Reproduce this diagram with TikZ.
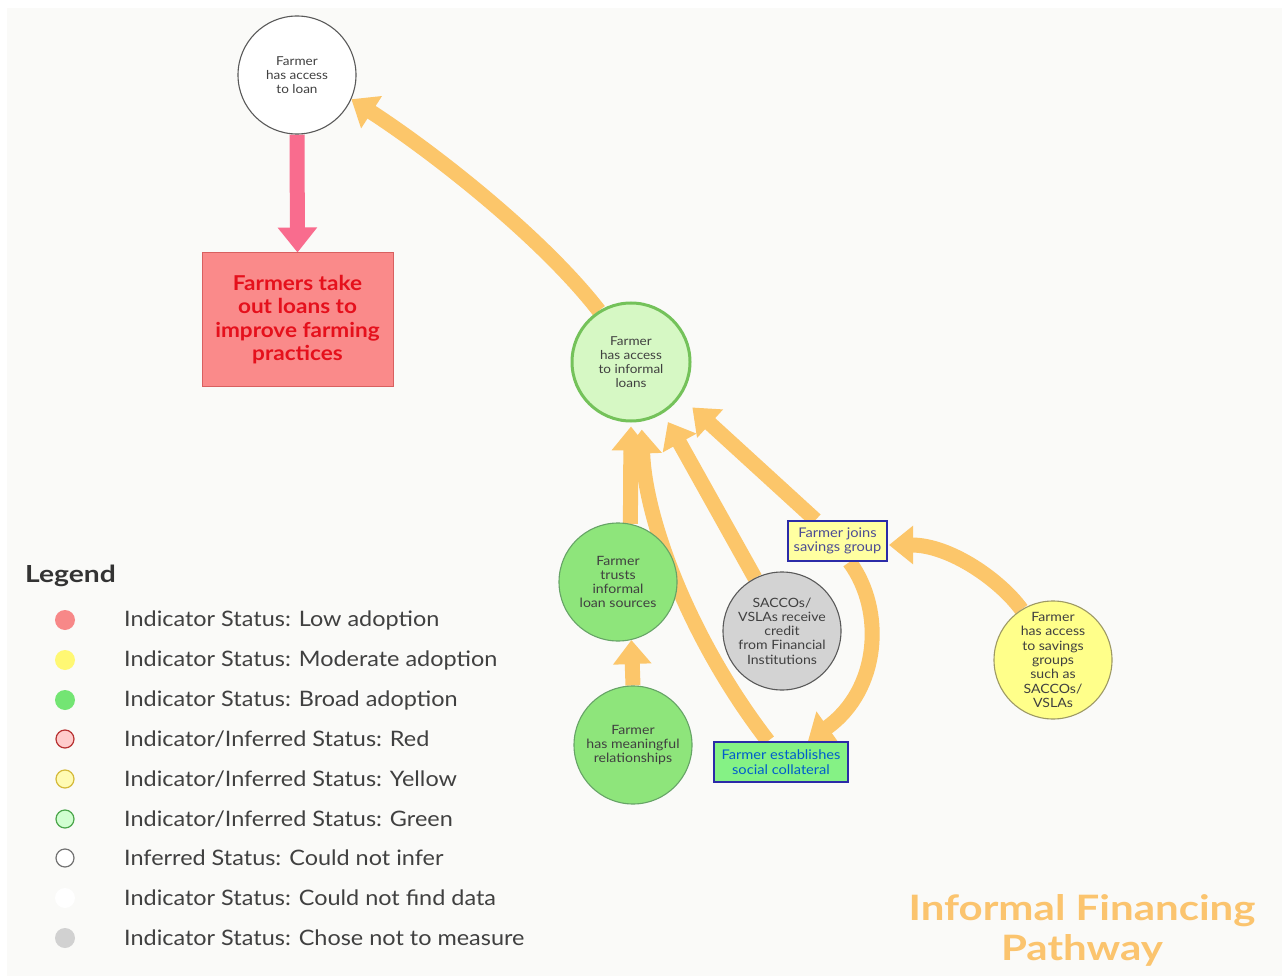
\documentclass[tikz,border=0pt]{standalone}
\usepackage{fontspec}
\setmainfont{Lato}[FakeStretch=1.1]
\newfontfamily\widefont{Lato}[FakeStretch=1.2]
\usetikzlibrary{arrows.meta,calc}
\pgfdeclarelayer{back}
\pgfsetlayers{back,main}
\definecolor{bgc}{HTML}{FAFAF8}
\definecolor{orangeA}{HTML}{FCC66A}
\definecolor{pinkA}{HTML}{F96C8E}
\definecolor{txt}{HTML}{404040}
\definecolor{boxblue}{HTML}{2B2BA8}
\definecolor{redfill}{HTML}{FA8A8A}
\definecolor{redline}{HTML}{D86060}
\definecolor{redtxt}{HTML}{E5101C}
\definecolor{gfill}{HTML}{8EE57B}
\definecolor{lgfill}{HTML}{D6F8C4}
\definecolor{lgline}{HTML}{74C25A}
\definecolor{yfill}{HTML}{FFFF8A}
\definecolor{greyfill}{HTML}{D3D3D3}
\definecolor{titlec}{HTML}{FBC46E}
\tikzset{
  circ/.style={circle, minimum size=118pt, inner sep=0pt, align=center, text=txt,
    font=\fontsize{12.3}{14}\selectfont, draw=black!65, line width=1.1pt},
  bigcirc/.style={circ, font=\fontsize{12.8}{14.3}\selectfont},
  gbox/.style={rectangle, draw=boxblue, line width=2pt, align=center, inner sep=0pt,
    font=\fontsize{13.3}{14.5}\selectfont},
  oarr/.style={draw=orangeA, line width=15pt, -{Triangle[width=37pt,length=24pt]}},
  parr/.style={draw=pinkA, line width=15pt, -{Triangle[width=38pt,length=25pt]}},
  legc/.style={circle, minimum size=20pt, inner sep=0pt},
  legt/.style={anchor=west, text=txt, font=\fontsize{21.3}{24}\selectfont, inner sep=0pt}
}
\begin{document}
\begin{tikzpicture}[x=1pt,y=-1pt]
\useasboundingbox (0,0) rectangle (1285,976);
% nodes
\node[circ, fill=white] (A) at (297,75) {Farmer\\has access\\to loan};
\node[rectangle, fill=redfill, draw=redline, line width=1pt, minimum width=191pt,
  minimum height=133pt, align=center, text=redtxt,
  font=\bfseries\fontsize{20.5}{23.5}\selectfont] (R) at (297.5,319.5)
  {Farmers take\\out loans to\\improve farming\\practices};
\node[circ, fill=lgfill, draw=lgline, line width=3pt] (B) at (631,362)
  {Farmer\\has access\\to informal\\loans};
\node[bigcirc, fill=gfill, draw=black!60!green!60] (C) at (618,582)
  {Farmer\\trusts\\informal\\loan sources};
\node[bigcirc, fill=gfill, draw=black!60!green!60] (D) at (633,745)
  {Farmer\\has meaningful\\relationships};
\node[bigcirc, fill=greyfill, draw=black!65] (E) at (782,631)
  {SACCOs/\\VSLAs receive\\credit\\from Financial\\Institutions};
\node[bigcirc, fill=yfill, draw=black!55!yellow!80] (F) at (1053,660)
  {Farmer\\has access\\to savings\\groups\\such as\\SACCOs/\\VSLAs};
\node[gbox, fill=yfill!80!white, minimum width=99pt, minimum height=40pt,
  text=black!60!blue!70] (G) at (837.5,541) {Farmer joins\\savings group};
\node[gbox, fill=green!45!white!95!black, minimum width=134pt, minimum height=40pt,
  text=blue!55!cyan!80!black] (H) at (781,762) {Farmer establishes\\social collateral};
% connectors
\begin{pgfonlayer}{back}
\fill[white] (0,0) rectangle (1285,976);
\fill[bgc] (7,8) rectangle (1282,976);
\draw[parr] (A.south) -- (R.north);
\draw[oarr] (B.122) .. controls (540,235) and (430,150) .. (A.-24);
\draw[oarr] (D.90) -- (C.-77);
\draw[oarr, shorten >=4pt] (C.78) -- (B.-90);
\draw[oarr, shorten >=8pt] ($(H.north)+(-13,0)$) .. controls (690,640) and (645,520) .. (B.-80);
\draw[oarr, shorten >=10pt] (E.117) -- (B.-58);
\draw[oarr, shorten >=16pt] ($(G.north)+(-22,0)$) -- (B.-35);
\draw[oarr] (F.122) .. controls (1000,580) and (950,545) .. ($(G.east)+(1,4)$);
\draw[oarr] ($(G.south)+(12,0)$) .. controls (885,610) and (880,690) .. ($(H.north)+(27,0)$);
\end{pgfonlayer}
% legend
\node[anchor=west, inner sep=0pt, text=black!80, font=\widefont\bfseries\fontsize{23.5}{26}\selectfont]
  (lg) at (25,576) {Legend};
\node[legc, fill=red!45!white!97!black] (l1) at (65,620) {};
\node[legc, fill=yellow!55!white] (l2) at (65,660) {};
\node[legc, fill=green!50!white!90!black] (l3) at (65,700) {};
\node[legc, fill=red!20!white, draw=red!65!black!80, line width=1.2pt, minimum size=18pt] (l4) at (65,739) {};
\node[legc, fill=yellow!30!white, draw=yellow!70!orange!80!black!90, line width=1.2pt, minimum size=18pt] (l5) at (65,779) {};
\node[legc, fill=green!18!white, draw=green!50!black!70, line width=1.2pt, minimum size=18pt] (l6) at (65,819) {};
\node[legc, fill=white, draw=black!55, line width=1.2pt, minimum size=18pt] (l7) at (65,858) {};
\node[legc, fill=white] (l8) at (65,898) {};
\node[legc, fill=black!18] (l9) at (65,938) {};
\node[legt] (t1) at (124,620) {Indicator Status: Low adoption};
\node[legt] (t2) at (124,660) {Indicator Status: Moderate adoption};
\node[legt] (t3) at (124,700) {Indicator Status: Broad adoption};
\node[legt] (t4) at (124,739) {Indicator/Inferred Status: Red};
\node[legt] (t5) at (124,779) {Indicator/Inferred Status: Yellow};
\node[legt] (t6) at (124,819) {Indicator/Inferred Status: Green};
\node[legt] (t7) at (124,858) {Inferred Status: Could not infer};
\node[legt] (t8) at (124,898) {Indicator Status: Could not find data};
\node[legt] (t9) at (124,938) {Indicator Status: Chose not to measure};
% title
\node[align=center, text=titlec, font=\widefont\bfseries\fontsize{35}{40}\selectfont] (title)
  at (1082,930) {Informal Financing\\Pathway};
\end{tikzpicture}
\end{document}
